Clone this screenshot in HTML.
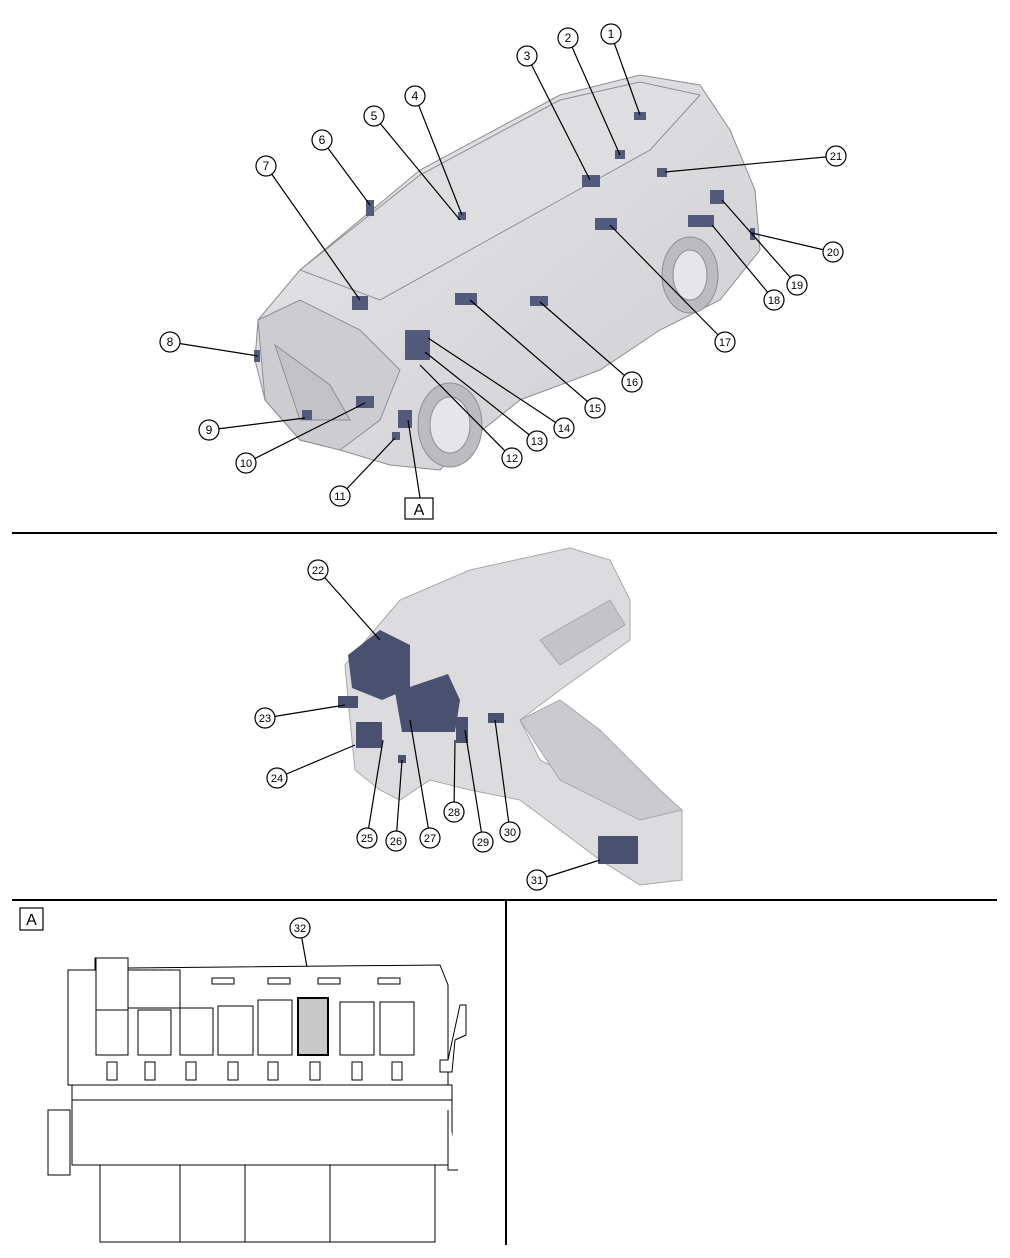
<!DOCTYPE html>
<html><head><meta charset="utf-8"><style>
html,body{margin:0;padding:0;background:#fff;}
svg{display:block;font-family:"Liberation Sans",sans-serif;}
</style></head><body>
<svg width="1010" height="1258" viewBox="0 0 1010 1258" xmlns="http://www.w3.org/2000/svg">
<defs>
<linearGradient id="g1" x1="0" y1="0" x2="1" y2="1"><stop offset="0" stop-color="#e6e6e8"/><stop offset="1" stop-color="#cfcfd3"/></linearGradient>
</defs>
<!-- car body -->
<g stroke="#8e8e92" stroke-width="1">
<path d="M258,320 L300,270 L420,170 L560,95 L640,75 L700,85 L730,130 L755,190 L760,250 L720,300 L660,330 L600,370 L520,400 L470,440 L440,470 L390,465 L340,450 L300,440 L265,400 L255,360 Z" fill="url(#g1)"/>
<path d="M300,270 L420,175 L560,100 L640,82 L700,95 L650,150 L560,200 L470,250 L380,300 Z" fill="#dedee1"/>
<path d="M258,320 L300,300 L360,330 L400,370 L380,420 L340,450 L300,440 L265,400 Z" fill="#cdcdd1"/>
<ellipse cx="450" cy="425" rx="32" ry="42" fill="#bcbcc0"/>
<ellipse cx="450" cy="425" rx="20" ry="28" fill="#e6e6e8"/>
<ellipse cx="690" cy="275" rx="28" ry="38" fill="#bcbcc0"/>
<ellipse cx="690" cy="275" rx="17" ry="25" fill="#e6e6e8"/>
<path d="M275,345 L330,385 L350,420 L300,420 Z" fill="#c2c2c6"/>
</g>
<!-- components -->
<g fill="#535a7c">
<rect x="634" y="112" width="12" height="8"/><rect x="615" y="150" width="10" height="9"/>
<rect x="582" y="175" width="18" height="12"/><rect x="458" y="212" width="8" height="8"/>
<rect x="366" y="200" width="8" height="16"/><rect x="352" y="296" width="16" height="14"/>
<rect x="254" y="350" width="6" height="12"/><rect x="302" y="410" width="10" height="10"/>
<rect x="356" y="396" width="18" height="12"/><rect x="392" y="432" width="8" height="8"/>
<rect x="398" y="410" width="14" height="18"/><rect x="405" y="330" width="25" height="30"/>
<rect x="455" y="293" width="22" height="12"/><rect x="530" y="296" width="18" height="10"/>
<rect x="595" y="218" width="22" height="12"/><rect x="688" y="215" width="26" height="12"/>
<rect x="710" y="190" width="14" height="14"/><rect x="750" y="228" width="5" height="12"/>
<rect x="657" y="168" width="10" height="9"/>
</g>
<!-- dashboard -->
<g stroke="#a8a8ac" stroke-width="1">
<path d="M345,665 L400,600 L470,570 L570,548 L610,560 L630,600 L630,640 L560,690 L520,720 L540,760 L600,790 L660,800 L682,810 L682,880 L640,885 L600,860 L520,800 L470,790 L430,780 L400,800 L380,790 L355,770 L350,720 Z" fill="#dcdcdf"/>
<path d="M520,720 L560,700 L600,730 L660,790 L682,810 L640,820 L560,780 Z" fill="#cbcbcf"/>
<path d="M540,640 L610,600 L625,625 L560,665 Z" fill="#c4c4c8"/>
</g>
<g fill="#4a5070">
<path d="M348,655 L380,630 L410,645 L410,688 L382,700 L352,688 Z"/>
<rect x="338" y="696" width="20" height="12"/>
<rect x="356" y="722" width="26" height="26"/>
<rect x="398" y="755" width="8" height="8"/>
<path d="M395,692 L448,674 L460,700 L455,732 L402,732 Z"/>
<rect x="456" y="717" width="12" height="26"/>
<rect x="488" y="713" width="16" height="10"/>
<rect x="598" y="836" width="40" height="28"/>
</g>
<!-- leader lines -->
<g stroke="#000" stroke-width="1.2" fill="none">
<line x1="611" y1="34" x2="640" y2="115"/><line x1="568" y1="38" x2="620" y2="155"/>
<line x1="527" y1="56" x2="590" y2="180"/><line x1="415" y1="96" x2="462" y2="215"/>
<line x1="374" y1="116" x2="460" y2="220"/><line x1="322" y1="140" x2="370" y2="205"/>
<line x1="266" y1="166" x2="360" y2="300"/><line x1="170" y1="342" x2="258" y2="356"/>
<line x1="209" y1="430" x2="305" y2="418"/><line x1="246" y1="463" x2="365" y2="403"/>
<line x1="340" y1="496" x2="395" y2="438"/><line x1="420" y1="498" x2="408" y2="420"/>
<line x1="512" y1="458" x2="420" y2="365"/><line x1="537" y1="441" x2="425" y2="352"/>
<line x1="564" y1="428" x2="428" y2="338"/><line x1="595" y1="408" x2="470" y2="300"/>
<line x1="632" y1="382" x2="540" y2="302"/><line x1="725" y1="342" x2="610" y2="225"/>
<line x1="774" y1="300" x2="712" y2="225"/><line x1="797" y1="285" x2="722" y2="200"/>
<line x1="833" y1="252" x2="752" y2="233"/><line x1="836" y1="156" x2="665" y2="172"/>
<line x1="318" y1="570" x2="380" y2="640"/><line x1="265" y1="718" x2="345" y2="705"/>
<line x1="277" y1="778" x2="355" y2="745"/><line x1="367" y1="838" x2="383" y2="740"/>
<line x1="396" y1="841" x2="402" y2="760"/><line x1="430" y1="838" x2="410" y2="720"/>
<line x1="454" y1="812" x2="455" y2="740"/><line x1="483" y1="842" x2="465" y2="730"/>
<line x1="510" y1="832" x2="495" y2="720"/><line x1="537" y1="880" x2="600" y2="860"/>
<line x1="300" y1="928" x2="312" y2="995"/>
</g>
<!-- circles -->
<g fill="#fff" stroke="#000" stroke-width="1.2">
<circle cx="611" cy="34" r="10"/><circle cx="568" cy="38" r="10"/><circle cx="527" cy="56" r="10"/>
<circle cx="415" cy="96" r="10"/><circle cx="374" cy="116" r="10"/><circle cx="322" cy="140" r="10"/>
<circle cx="266" cy="166" r="10"/><circle cx="170" cy="342" r="10"/><circle cx="209" cy="430" r="10"/>
<circle cx="246" cy="463" r="10"/><circle cx="340" cy="496" r="10"/><circle cx="512" cy="458" r="10"/>
<circle cx="537" cy="441" r="10"/><circle cx="564" cy="428" r="10"/><circle cx="595" cy="408" r="10"/>
<circle cx="632" cy="382" r="10"/><circle cx="725" cy="342" r="10"/><circle cx="774" cy="300" r="10"/>
<circle cx="797" cy="285" r="10"/><circle cx="833" cy="252" r="10"/><circle cx="836" cy="156" r="10"/>
<circle cx="318" cy="570" r="10"/><circle cx="265" cy="718" r="10"/><circle cx="277" cy="778" r="10"/>
<circle cx="367" cy="838" r="10"/><circle cx="396" cy="841" r="10"/><circle cx="430" cy="838" r="10"/>
<circle cx="454" cy="812" r="10"/><circle cx="483" cy="842" r="10"/><circle cx="510" cy="832" r="10"/>
<circle cx="537" cy="880" r="10"/><circle cx="300" cy="928" r="10"/>
</g>
<g font-size="12" text-anchor="middle" fill="#000">
<text x="611" y="38">1</text><text x="568" y="42">2</text><text x="527" y="60">3</text>
<text x="415" y="100">4</text><text x="374" y="120">5</text><text x="322" y="144">6</text>
<text x="266" y="170">7</text><text x="170" y="346">8</text><text x="209" y="434">9</text>
<text x="246" y="467" font-size="11">10</text><text x="340" y="500" font-size="11">11</text><text x="512" y="462" font-size="11">12</text>
<text x="537" y="445" font-size="11">13</text><text x="564" y="432" font-size="11">14</text><text x="595" y="412" font-size="11">15</text>
<text x="632" y="386" font-size="11">16</text><text x="725" y="346" font-size="11">17</text><text x="774" y="304" font-size="11">18</text>
<text x="797" y="289" font-size="11">19</text><text x="833" y="256" font-size="11">20</text><text x="836" y="160" font-size="11">21</text>
<text x="318" y="574" font-size="11">22</text><text x="265" y="722" font-size="11">23</text><text x="277" y="782" font-size="11">24</text>
<text x="367" y="842" font-size="11">25</text><text x="396" y="845" font-size="11">26</text><text x="430" y="842" font-size="11">27</text>
<text x="454" y="816" font-size="11">28</text><text x="483" y="846" font-size="11">29</text><text x="510" y="836" font-size="11">30</text>
<text x="537" y="884" font-size="11">31</text><text x="300" y="932" font-size="11">32</text>
</g>
<!-- A labels -->
<rect x="405" y="498" width="28" height="21" fill="#fff" stroke="#000" stroke-width="1.2"/>
<text x="419" y="515" font-size="16" text-anchor="middle">A</text>
<rect x="20" y="908" width="23" height="22" fill="#fff" stroke="#000" stroke-width="1.2"/>
<text x="31.5" y="925" font-size="16" text-anchor="middle">A</text>
<!-- dividers -->
<g stroke="#000" stroke-width="2">
<line x1="12" y1="533" x2="997" y2="533"/>
<line x1="12" y1="900" x2="997" y2="900"/>
<line x1="506" y1="900" x2="506" y2="1245"/>
</g>
<!-- fuse box -->
<g stroke="#000" stroke-width="1" fill="#fff">
<path d="M68,1085 L68,970 L95,970 L95,958 L128,958 L128,968 L440,965 L448,985 L448,1085 Z"/>
<rect x="72" y="1085" width="380" height="80"/>
<path d="M48,1110 L48,1175 L70,1175 L70,1110 Z"/>
<path d="M448,1110 L448,1170 L458,1170"/>
<rect x="100" y="1165" width="335" height="77"/>
<line x1="180" y1="1165" x2="180" y2="1242"/><line x1="245" y1="1165" x2="245" y2="1242"/>
<line x1="330" y1="1165" x2="330" y2="1242"/>
<line x1="72" y1="1100" x2="452" y2="1100"/>
<rect x="96" y="1010" width="32" height="45"/>
<rect x="138" y="1010" width="33" height="45"/>
<rect x="180" y="1008" width="33" height="47"/>
<rect x="218" y="1006" width="35" height="49"/>
<rect x="258" y="1000" width="34" height="55"/>
<rect x="298" y="998" width="30" height="57" fill="#c8c8c8" stroke-width="2"/>
<rect x="340" y="1002" width="34" height="53"/>
<rect x="380" y="1002" width="34" height="53"/>
<rect x="96" y="958" width="32" height="52"/>
<rect x="128" y="970" width="52" height="38"/>
<rect x="107" y="1062" width="10" height="18"/><rect x="145" y="1062" width="10" height="18"/>
<rect x="186" y="1062" width="10" height="18"/><rect x="228" y="1062" width="10" height="18"/>
<rect x="268" y="1062" width="10" height="18"/><rect x="310" y="1062" width="10" height="18"/>
<rect x="352" y="1062" width="10" height="18"/><rect x="392" y="1062" width="10" height="18"/>
<rect x="212" y="978" width="22" height="6"/><rect x="268" y="978" width="22" height="6"/>
<rect x="318" y="978" width="22" height="6"/><rect x="378" y="978" width="22" height="6"/>
<path d="M440,1060 L448,1060 L460,1005 L466,1005 L466,1035 L455,1040 L452,1072 L440,1072 Z"/>
</g>
</svg>
</body></html>
